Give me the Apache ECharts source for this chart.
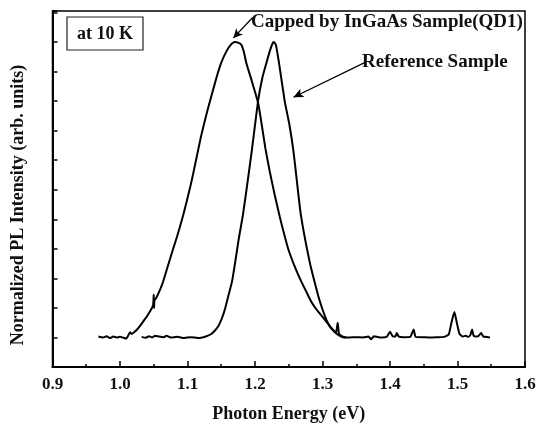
<!DOCTYPE html>
<html>
<head>
<meta charset="utf-8">
<script src="https://cdn.jsdelivr.net/npm/echarts@6/dist/echarts.min.js"></script>
<style>html,body{margin:0;padding:0;background:#fff}#c{width:543px;height:428px}</style>
</head>
<body>
<div id="c"></div>
<script>
// Photon energy (eV) and normalized PL intensity
const qd1Energy = [0.968,0.975,0.980,0.985,0.990,0.995,1.000,1.005,1.009,1.012,1.015,1.017,1.020,1.025,1.030,1.035,1.040,1.045,1.049,1.050,1.0505,1.051,1.054,1.060,1.064,1.070,1.0787,1.085,1.0935,1.1034,1.108,1.114,1.120,1.128,1.1355,1.143,1.150,1.158,1.165,1.170,1.175,1.180,1.184,1.187,1.195,1.2045,1.210,1.2154,1.222,1.229,1.2365,1.242,1.249,1.258,1.2686,1.276,1.2834,1.290,1.297,1.3056,1.312,1.318,1.320,1.3225,1.3245,1.330,1.335];
const qd1Intensity = [0.003,0.000,0.004,-0.002,0.003,0.000,0.002,-0.001,-0.004,0.006,0.018,0.012,0.016,0.026,0.040,0.056,0.072,0.090,0.108,0.145,0.100,0.125,0.135,0.165,0.190,0.235,0.300,0.345,0.413,0.503,0.550,0.615,0.680,0.755,0.818,0.880,0.930,0.970,0.993,1.000,0.998,0.990,0.962,0.930,0.870,0.795,0.720,0.640,0.560,0.485,0.410,0.360,0.301,0.245,0.189,0.155,0.121,0.098,0.078,0.054,0.035,0.020,0.015,0.050,0.012,0.003,0.000];

const refEnergy = [1.032,1.038,1.043,1.048,1.052,1.058,1.065,1.069,1.075,1.085,1.095,1.105,1.115,1.122,1.128,1.134,1.140,1.146,1.151,1.156,1.161,1.166,1.171,1.176,1.182,1.188,1.1956,1.2045,1.211,1.217,1.222,1.226,1.228,1.231,1.2355,1.244,1.251,1.257,1.262,1.267,1.272,1.277,1.282,1.288,1.295,1.303,1.310,1.318,1.325,1.332,1.340,1.350,1.360,1.368,1.372,1.376,1.385,1.395,1.400,1.404,1.408,1.410,1.413,1.420,1.430,1.435,1.438,1.450,1.460,1.470,1.480,1.487,1.491,1.4954,1.499,1.503,1.508,1.512,1.516,1.519,1.5216,1.524,1.530,1.535,1.538,1.545,1.548];
const refIntensity = [0.002,-0.001,0.004,0.000,0.006,0.003,0.001,0.006,0.000,0.002,-0.002,0.001,-0.002,0.000,0.004,0.010,0.022,0.040,0.065,0.100,0.145,0.190,0.260,0.335,0.413,0.510,0.638,0.800,0.880,0.930,0.970,0.995,1.000,0.990,0.930,0.800,0.720,0.630,0.530,0.430,0.360,0.300,0.245,0.190,0.130,0.076,0.040,0.018,0.006,0.000,0.000,0.001,0.000,0.003,-0.006,0.004,0.000,0.002,0.019,0.004,0.003,0.015,0.003,0.001,0.002,0.027,0.002,0.001,0.000,0.001,0.002,0.010,0.050,0.086,0.050,0.012,0.003,0.006,0.002,0.008,0.027,0.005,0.003,0.015,0.004,0.001,0.000];

const xTicks = [0.9,1.0,1.1,1.2,1.3,1.4,1.5,1.6];

const FONT = '"Liberation Serif", "Times New Roman", serif';
const pair = (xs, ys) => xs.map((x, i) => [x, ys[i]]);

const chart = echarts.init(document.getElementById('c'), null, {renderer: 'canvas'});
chart.setOption({
  animation: false,
  backgroundColor: '#fff',
  grid: {left: 52.5, right: 18, top: 11, bottom: 59.5, show: true, borderColor: '#000', borderWidth: 1.5, backgroundColor: 'transparent'},
  xAxis: {
    type: 'value', min: 0.9, max: 1.6, interval: 0.1,
    name: 'Photon Energy (eV)', nameLocation: 'middle', nameGap: 38,
    nameTextStyle: {fontFamily: FONT, fontWeight: 'bold', fontSize: 18, color: '#111'},
    axisLine: {show: true, onZero: false, lineStyle: {color: '#000', width: 2}},
    axisTick: {show: true, inside: true, length: 6, lineStyle: {color: '#000', width: 1.5}},
    minorTick: {show: true, splitNumber: 2, length: 3, lineStyle: {color: '#000', width: 1.5}},
    splitLine: {show: false},
    axisLabel: {fontFamily: FONT, fontWeight: 'bold', fontSize: 17, color: '#111', margin: 9,
      formatter: v => xTicks.some(t => Math.abs(t - v) < 1e-6) ? v.toFixed(1) : ''}
  },
  yAxis: {
    type: 'value', min: -0.1, max: 1.105, interval: 0.1,
    axisLine: {show: true, onZero: false, lineStyle: {color: '#000', width: 2}},
    axisTick: {show: true, inside: true, length: 5, lineStyle: {color: '#000', width: 1.5}},
    axisLabel: {show: false},
    splitLine: {show: false}
  },
  graphic: [
    {type: 'text', x: 18, y: 205, rotation: Math.PI / 2,
     style: {text: 'Normalized PL Intensity (arb. units)', font: 'bold 18px ' + FONT, fill: '#111', textAlign: 'center', textVerticalAlign: 'middle'}},
    {type: 'rect', shape: {x: 67, y: 17, width: 76, height: 33}, style: {fill: '#fff', stroke: '#222', lineWidth: 1.2}},
    {type: 'text', x: 105, y: 34, style: {text: 'at 10 K', font: 'bold 18px ' + FONT, fill: '#111', textAlign: 'center', textVerticalAlign: 'middle'}},
    {type: 'text', x: 251, y: 22, style: {text: 'Capped by InGaAs Sample(QD1)', font: 'bold 19px ' + FONT, fill: '#111', textAlign: 'left', textVerticalAlign: 'middle'}},
    {type: 'text', x: 362, y: 62, style: {text: 'Reference Sample', font: 'bold 19px ' + FONT, fill: '#111', textAlign: 'left', textVerticalAlign: 'middle'}}
  ],
  series: [
    {type: 'line', name: 'Capped by InGaAs Sample(QD1)', data: pair(qd1Energy, qd1Intensity),
     showSymbol: false, smooth: 0.15, lineStyle: {color: '#000', width: 2}, z: 3,
     markLine: {silent: true, symbol: ['none', 'arrow'], symbolSize: [7, 9],
       lineStyle: {color: '#000', width: 1.3, type: 'solid'}, label: {show: false},
       data: [[{coord: [1.1966, 1.083]}, {coord: [1.168, 1.014]}]]}},
    {type: 'line', name: 'Reference Sample', data: pair(refEnergy, refIntensity),
     showSymbol: false, smooth: 0.15, lineStyle: {color: '#000', width: 2}, z: 3,
     markLine: {silent: true, symbol: ['none', 'arrow'], symbolSize: [7, 10],
       lineStyle: {color: '#000', width: 1.3, type: 'solid'}, label: {show: false},
       data: [[{coord: [1.364, 0.932]}, {coord: [1.257, 0.813]}]]}}
  ]
});
</script>
</body>
</html>
